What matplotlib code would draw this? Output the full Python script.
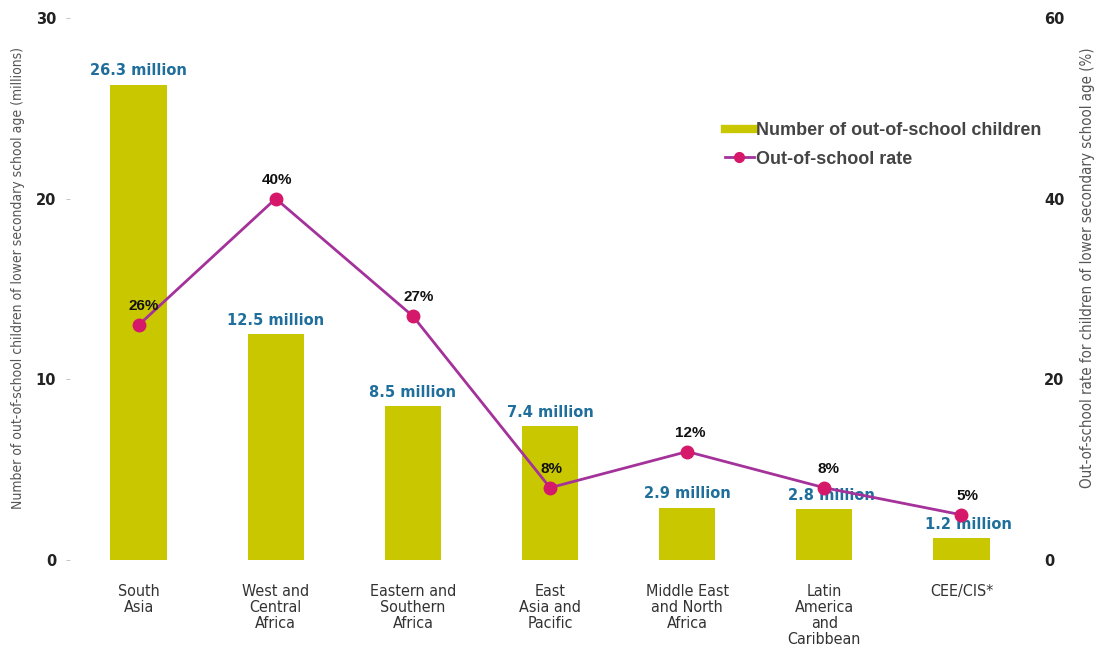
import matplotlib
matplotlib.use("Agg")
import matplotlib.pyplot as plt
from matplotlib import font_manager as fm
from matplotlib.lines import Line2D

regions = ["South\nAsia", "West and\nCentral\nAfrica", "Eastern and\nSouthern\nAfrica",
           "East\nAsia and\nPacific", "Middle East\nand North\nAfrica",
           "Latin\nAmerica\nand\nCaribbean", "CEE/CIS*"]
children_millions = [26.3, 12.5, 8.5, 7.4, 2.9, 2.8, 1.2]
rate_pct = [26, 40, 27, 8, 12, 8, 5]

left_ticks = [0, 10, 20, 30]
right_ticks = [0, 20, 40, 60]

BAR = "#c9c800"
LINE = "#a4329a"
MARK = "#d6186a"
BLUE = "#1f6e9c"
GREY = "#555555"

# pick a narrow sans face if one is available
narrow = None
for f in fm.fontManager.ttflist:
    st = str(f.stretch).lower()
    if f.style == "normal" and f.weight in (400, "normal", "regular") and \
            ("condensed" in st or
             (isinstance(f.stretch, int) and f.stretch < 500)):
        narrow = f.fname
        if "DejaVu" in f.name or "Liberation" in f.name:
            break
if narrow:
    cat_font = dict(fontproperties=fm.FontProperties(fname=narrow, size=11.5))
    ylab_left = dict(fontproperties=fm.FontProperties(fname=narrow, size=10))
    ylab_right = dict(fontproperties=fm.FontProperties(fname=narrow, size=10.8))
else:
    cat_font = dict(family="DejaVu Sans", fontsize=10.5)
    ylab_left = dict(family="DejaVu Sans", fontsize=8.5)
    ylab_right = dict(family="DejaVu Sans", fontsize=9)

fig = plt.figure(figsize=(11.02, 6.5), dpi=100)
ax = fig.add_axes([0.0635, 0.1385, 0.8712, 0.8338])
ax2 = ax.twinx()

x = list(range(len(regions)))
ax.bar(x, children_millions, width=0.41, color=BAR, zorder=1)
ax.set_xlim(-0.5, len(regions) - 0.5)
ax.set_ylim(0, 30)
ax.set_yticks(left_ticks)
ax.set_xticks(x)
ax.set_xticklabels(regions, color="#333333", linespacing=1.1, **cat_font)
ax.tick_params(axis="x", length=0, pad=17)
ax.tick_params(axis="y", length=3, width=0.6, color="#bbbbbb", pad=7,
               labelsize=10.5, labelcolor="#222222")
for t in ax.get_yticklabels():
    t.set_fontweight("bold")

ax2.plot(x, rate_pct, color=LINE, lw=2.0, marker="o", ms=9,
         markerfacecolor=MARK, markeredgecolor=MARK, markeredgewidth=1, zorder=3)
ax2.set_ylim(0, 60)
ax2.set_yticks(right_ticks)
ax2.tick_params(axis="y", length=0, pad=10, labelsize=10.5, labelcolor="#222222")
for t in ax2.get_yticklabels():
    t.set_fontweight("bold")

for a in (ax, ax2):
    for s in a.spines.values():
        s.set_visible(False)

ax.set_zorder(ax2.get_zorder() - 1)
ax2.patch.set_visible(False)

# value labels above the bars
bar_dx = [0, 0, 0, 0, 0, 5, 5]
for i, v in enumerate(children_millions):
    ax.annotate(f"{v} million", (i, v), xytext=(bar_dx[i], 10), textcoords="offset points",
                ha="center", va="center", color=BLUE, fontsize=10.5,
                fontweight="bold", family="DejaVu Sans", zorder=5)

# rate labels above the markers
rate_dx = [4, 1, 4, 1, 2, 3, 4]
for i, r in enumerate(rate_pct):
    ax2.annotate(f"{r}%", (i, r), xytext=(rate_dx[i], 13.5), textcoords="offset points",
                 ha="center", va="center", color="#111111", fontsize=11,
                 fontweight="bold", family="Liberation Sans", zorder=6)

ax.set_ylabel("Number of out-of-school children of lower secondary school age (millions)",
              color=GREY, **ylab_left)
ax2.set_ylabel("Out-of-school rate for children of lower secondary school age (%)",
               color=GREY, **ylab_right)
ax.yaxis.set_label_coords(-0.047, 0.52)
ax2.yaxis.set_label_coords(1.052, 0.54)

handles = [Line2D([0], [0], color=BAR, lw=6),
           Line2D([0], [0], color=LINE, lw=2, marker="o", ms=7,
                  markerfacecolor=MARK, markeredgecolor=MARK)]
labels = ["Number of out-of-school children", "Out-of-school rate"]
ax2.legend(handles, labels, loc="upper left", bbox_to_anchor=(0.665, 0.838),
           frameon=False, handlelength=1.6, handletextpad=0.12,
           labelspacing=0.65, labelcolor="#444444",
           prop={"family": "Liberation Sans", "size": 13, "weight": "bold"})

fig.savefig("out.png", dpi=100, facecolor="white")
